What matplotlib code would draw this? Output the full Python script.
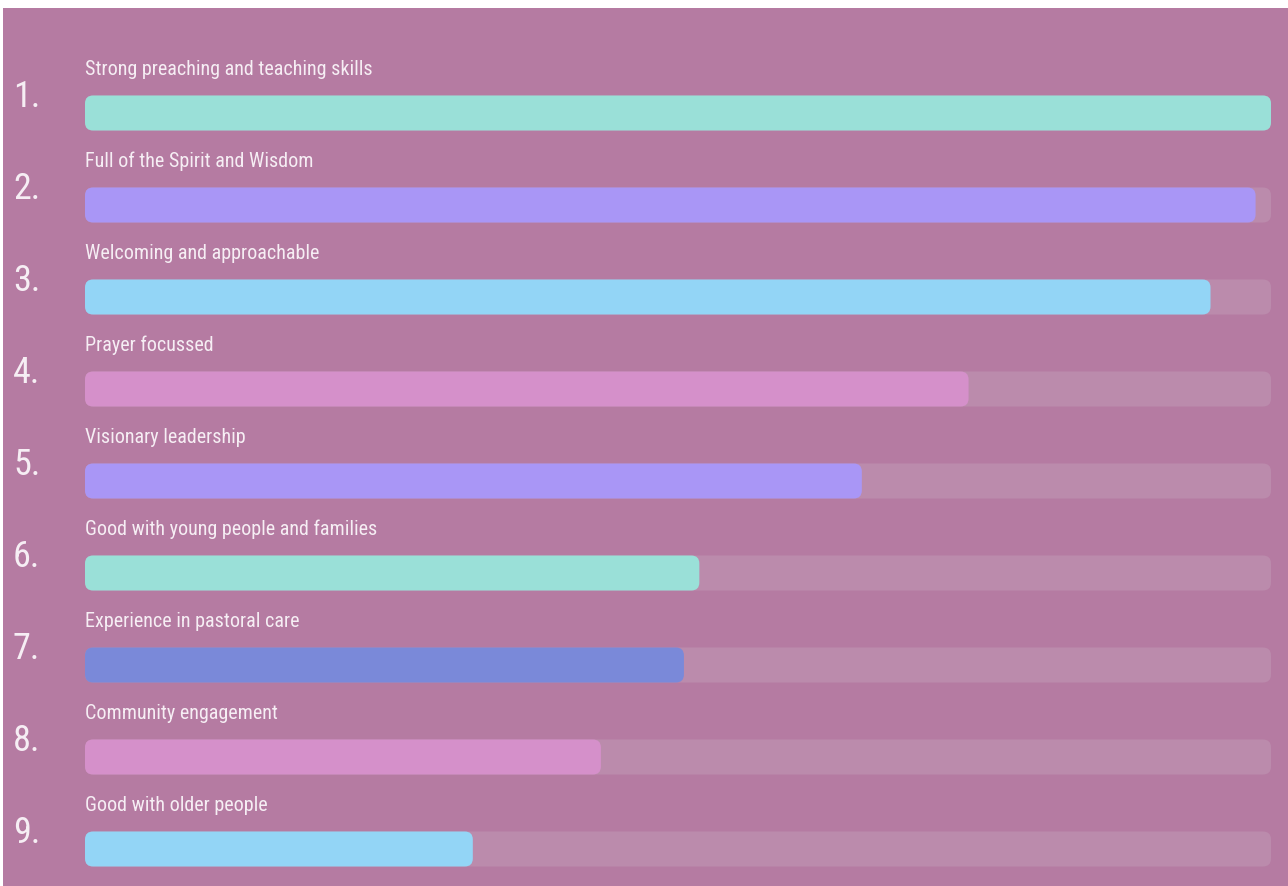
import matplotlib
matplotlib.use("Agg")
import matplotlib.pyplot as plt
from matplotlib.patches import FancyBboxPatch, Rectangle
from matplotlib import font_manager

categories = [
    "Strong preaching and teaching skills",
    "Full of the Spirit and Wisdom",
    "Welcoming and approachable",
    "Prayer focussed",
    "Visionary leadership",
    "Good with young people and families",
    "Experience in pastoral care",
    "Community engagement",
    "Good with older people",
]
ranks = ["1.", "2.", "3.", "4.", "5.", "6.", "7.", "8.", "9."]
values = [100.0, 98.7, 94.9, 74.5, 65.5, 51.8, 50.5, 43.5, 32.7]
colors = ["#9ae0d8", "#a996f6", "#93d5f6", "#d590ca", "#a996f6",
          "#9ae0d8", "#7a89d9", "#d590ca", "#93d5f6"]

BG = "#b57ba2"
TRACK = "#bb8bac"
TEXT = "#f6eef4"

names = {f.name for f in font_manager.fontManager.ttflist}
fam = "Roboto"
lab_size, num_size = 13, 22
for cand, ls, ns in [("Roboto Condensed", 14.5, 26),
                     ("Liberation Sans Narrow", 15, 26),
                     ("Open Sans Condensed", 14.5, 26)]:
    if cand in names:
        fam, lab_size, num_size = cand, ls, ns
        break

W, H = 1288, 886
fig = plt.figure(figsize=(W / 100, H / 100), dpi=100)
fig.patch.set_facecolor("white")
fig.patches.append(Rectangle((3 / W, 0), 1 - 3 / W, 1 - 8 / H, transform=fig.transFigure,
                             facecolor=BG, edgecolor="none", zorder=-10))

x0, x1 = 85, 1271
ax = fig.add_axes([x0 / W, 0, (x1 - x0) / W, 1])
ax.set_zorder(5)
ax.set_facecolor("none")
n = len(categories)
top_c, step = 113, 92
ax.set_xlim(0, 100)
ax.set_ylim((H - top_c) / step, -top_c / step)
ax.axis("off")

bar_h = 35 / step
px_x = 100 / (x1 - x0)
px_y = 1 / step
r = 8 * px_x
asp = px_y / px_x

tracks = ax.barh(range(n), [100] * n, height=bar_h, color=TRACK)
bars = ax.barh(range(n), values, height=bar_h, color=colors)

def roundify(container, z):
    for rect in container:
        x, y = rect.get_x(), rect.get_y()
        w, h = rect.get_width(), rect.get_height()
        p = FancyBboxPatch((x, y), w, h,
                           boxstyle=f"round,pad=0,rounding_size={r}",
                           mutation_aspect=asp,
                           facecolor=rect.get_facecolor(), edgecolor="none", zorder=z)
        ax.add_patch(p)
        rect.set_visible(False)

roundify(tracks, 1)
roundify(bars, 2)

for i, (lab, rk) in enumerate(zip(categories, ranks)):
    ax.text(0, i - 38 / step, lab, ha="left", va="baseline", color=TEXT,
            fontsize=lab_size, family=fam, zorder=3, clip_on=False)
    ax.text(-72 * px_x, i - 16 / step, rk, ha="left", va="center", color=TEXT,
            fontsize=num_size, family=fam, zorder=3, clip_on=False)

fig.savefig("out.png", dpi=100, facecolor=fig.get_facecolor())
